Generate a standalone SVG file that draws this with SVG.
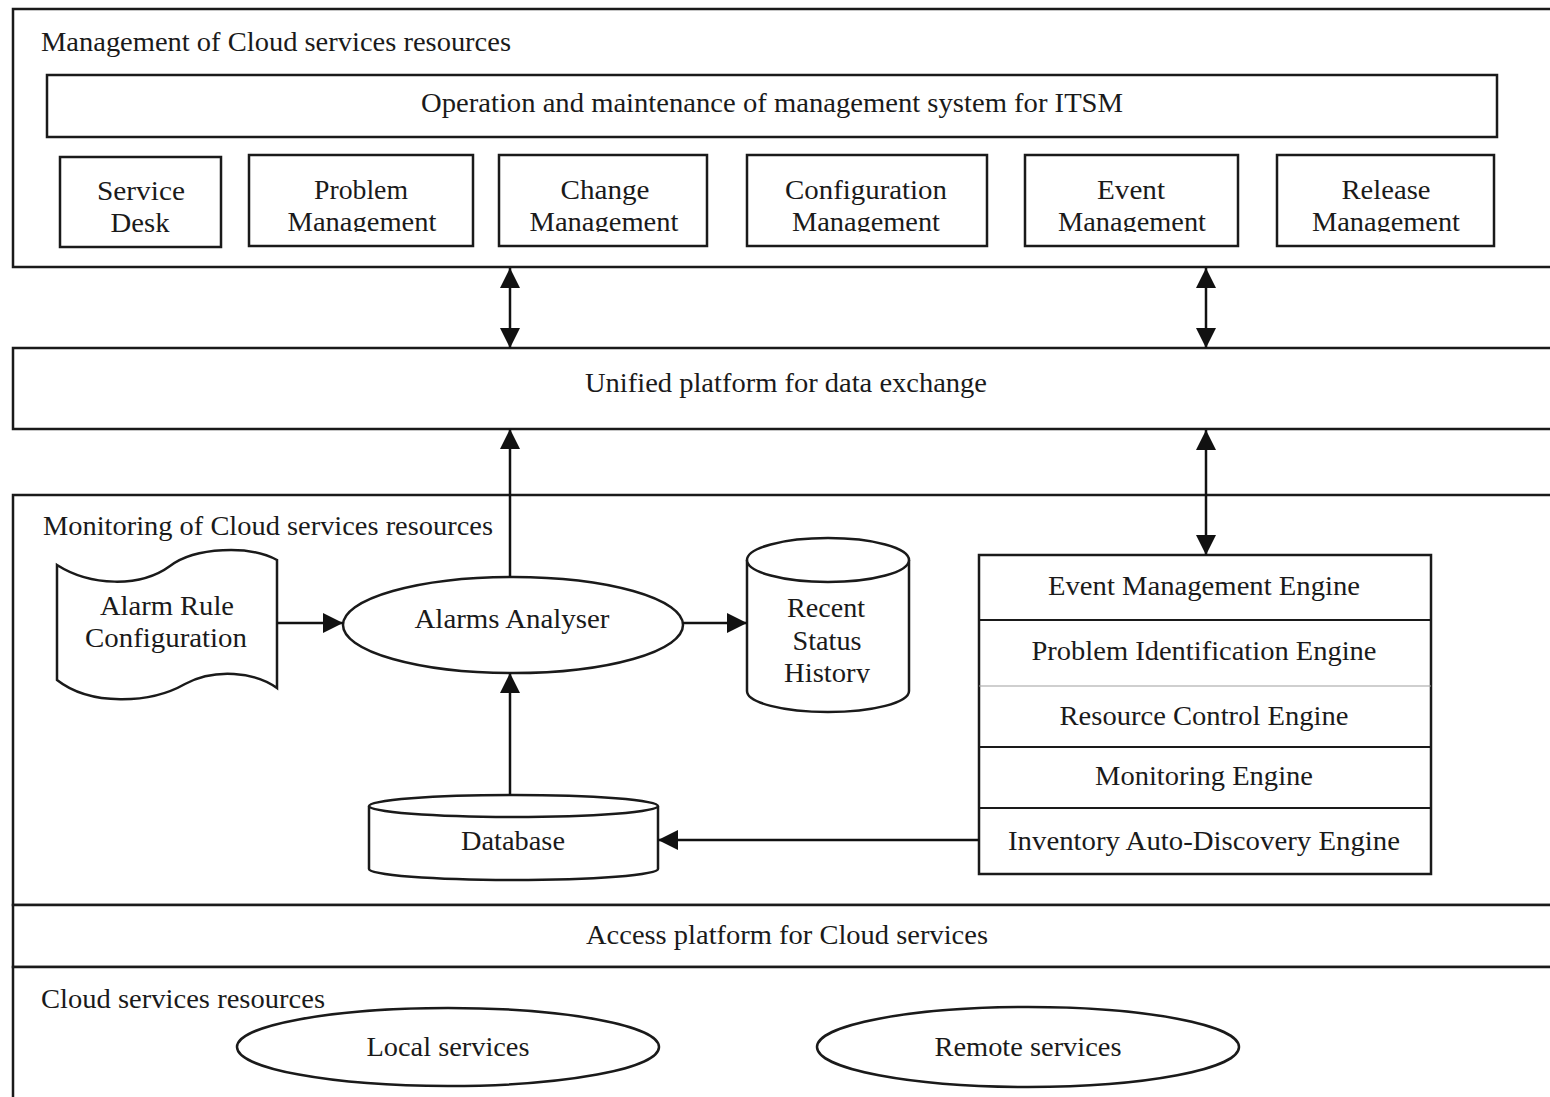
<svg xmlns="http://www.w3.org/2000/svg" width="1550" height="1097" viewBox="0 0 1550 1097">
  <style>
    .box { fill: #ffffff; stroke: #1a1a1a; stroke-width: 2.5; }
    .thin { fill: none; stroke: #1a1a1a; stroke-width: 2; }
    .lbl { font-family: "Liberation Serif", "Times New Roman", serif; font-size: 27px; fill: #1a1a1a; text-anchor: middle; }
    .start { text-anchor: start; }
    .conn { stroke: #111111; stroke-width: 2.5; fill: none; }
  </style>
  <defs>
    <marker id="arrow" viewBox="0 0 20 20" refX="20" refY="10" markerWidth="20" markerHeight="20" markerUnits="userSpaceOnUse" orient="auto-start-reverse">
      <path d="M0,0 L20,10 L0,20 z" fill="#111111"/>
    </marker>
    <clipPath id="clipRow"><rect x="0" y="0" width="1550" height="232"/></clipPath>
    <clipPath id="clipHist"><rect x="700" y="520" width="260" height="163"/></clipPath>
  </defs>

  <rect width="1550" height="1097" fill="#ffffff"/>

  <!-- Management layer -->
  <g id="management-layer">
    <rect class="box" x="13" y="9" width="1560" height="258"/>
    <text class="lbl start" x="41" y="51" textLength="470" lengthAdjust="spacingAndGlyphs">Management of Cloud services resources</text>
  </g>
  <g id="itsm-operation">
    <rect class="box" x="47" y="75" width="1450" height="62"/>
    <text class="lbl" x="772" y="112" textLength="702" lengthAdjust="spacingAndGlyphs">Operation and maintenance of management system for ITSM</text>
  </g>
  <g id="service-desk">
    <rect class="box" x="60" y="157" width="161" height="90"/>
    <text class="lbl" x="141" y="200" textLength="88" lengthAdjust="spacingAndGlyphs">Service</text>
    <text class="lbl" x="140" y="232" textLength="59" lengthAdjust="spacingAndGlyphs">Desk</text>
  </g>
  <g id="problem-management">
    <rect class="box" x="249" y="155" width="224" height="91"/>
    <text class="lbl" x="361" y="199" textLength="94" lengthAdjust="spacingAndGlyphs">Problem</text>
    <text class="lbl" x="362" y="231" textLength="149" lengthAdjust="spacingAndGlyphs" clip-path="url(#clipRow)">Management</text>
  </g>
  <g id="change-management">
    <rect class="box" x="499" y="155" width="208" height="91"/>
    <text class="lbl" x="605" y="199" textLength="89" lengthAdjust="spacingAndGlyphs">Change</text>
    <text class="lbl" x="604" y="231" textLength="149" lengthAdjust="spacingAndGlyphs" clip-path="url(#clipRow)">Management</text>
  </g>
  <g id="configuration-management">
    <rect class="box" x="747" y="155" width="240" height="91"/>
    <text class="lbl" x="866" y="199" textLength="162" lengthAdjust="spacingAndGlyphs">Configuration</text>
    <text class="lbl" x="866" y="231" textLength="148" lengthAdjust="spacingAndGlyphs" clip-path="url(#clipRow)">Management</text>
  </g>
  <g id="event-management">
    <rect class="box" x="1025" y="155" width="213" height="91"/>
    <text class="lbl" x="1131" y="199" textLength="68" lengthAdjust="spacingAndGlyphs">Event</text>
    <text class="lbl" x="1132" y="231" textLength="148" lengthAdjust="spacingAndGlyphs" clip-path="url(#clipRow)">Management</text>
  </g>
  <g id="release-management">
    <rect class="box" x="1277" y="155" width="217" height="91"/>
    <text class="lbl" x="1386" y="199" textLength="89" lengthAdjust="spacingAndGlyphs">Release</text>
    <text class="lbl" x="1386" y="231" textLength="148" lengthAdjust="spacingAndGlyphs" clip-path="url(#clipRow)">Management</text>
  </g>

  <!-- Data exchange layer -->
  <g id="unified-platform">
    <rect class="box" x="13" y="348" width="1560" height="81"/>
    <text class="lbl" x="786" y="392" textLength="402" lengthAdjust="spacingAndGlyphs">Unified platform for data exchange</text>
  </g>

  <!-- Monitoring layer -->
  <g id="monitoring-layer">
    <rect class="box" x="13" y="495" width="1560" height="410"/>
    <text class="lbl start" x="43" y="535" textLength="450" lengthAdjust="spacingAndGlyphs">Monitoring of Cloud services resources</text>
  </g>
  <g id="alarm-rule-configuration">
    <path class="box" d="M57,565 C90,586 140,588 170,566 C195,547 250,545 277,560 L277,688 C255,672 215,668 185,684 C150,704 90,706 57,680 Z"/>
    <text class="lbl" x="167" y="615" textLength="134" lengthAdjust="spacingAndGlyphs">Alarm Rule</text>
    <text class="lbl" x="166" y="647" textLength="162" lengthAdjust="spacingAndGlyphs">Configuration</text>
  </g>
  <g id="alarms-analyser">
    <ellipse class="box" cx="513" cy="625" rx="170" ry="48"/>
    <text class="lbl" x="512" y="628" textLength="195" lengthAdjust="spacingAndGlyphs">Alarms Analyser</text>
  </g>
  <g id="recent-status-history">
    <path class="box" d="M747,560 L747,691 A81,21 0 0 0 909,691 L909,560"/>
    <ellipse class="box" cx="828" cy="560" rx="81" ry="22"/>
    <text class="lbl" x="826" y="617" textLength="78" lengthAdjust="spacingAndGlyphs">Recent</text>
    <text class="lbl" x="827" y="650" textLength="69" lengthAdjust="spacingAndGlyphs">Status</text>
    <text class="lbl" x="827" y="682" textLength="86" lengthAdjust="spacingAndGlyphs" clip-path="url(#clipHist)">History</text>
  </g>
  <g id="database">
    <path class="box" d="M369,806 L369,869 A144.5,11 0 0 0 658,869 L658,806"/>
    <ellipse class="box" cx="513.5" cy="806" rx="144.5" ry="11"/>
    <text class="lbl" x="513" y="850" textLength="104" lengthAdjust="spacingAndGlyphs">Database</text>
  </g>
  <g id="engines">
    <rect class="box" x="979" y="555" width="452" height="319"/>
    <line class="thin" x1="979" y1="620" x2="1431" y2="620" stroke-width="2.5"/>
    <line x1="979" y1="686" x2="1431" y2="686" stroke="#a0a0a0" stroke-width="1.2"/>
    <line class="thin" x1="979" y1="747" x2="1431" y2="747" stroke-width="2.5"/>
    <line class="thin" x1="979" y1="808" x2="1431" y2="808" stroke-width="2.5"/>
    <text class="lbl" x="1204" y="595" textLength="312" lengthAdjust="spacingAndGlyphs">Event Management Engine</text>
    <text class="lbl" x="1204" y="660" textLength="345" lengthAdjust="spacingAndGlyphs">Problem Identification Engine</text>
    <text class="lbl" x="1204" y="725" textLength="289" lengthAdjust="spacingAndGlyphs">Resource Control Engine</text>
    <text class="lbl" x="1204" y="785" textLength="218" lengthAdjust="spacingAndGlyphs">Monitoring Engine</text>
    <text class="lbl" x="1204" y="850" textLength="392" lengthAdjust="spacingAndGlyphs">Inventory Auto-Discovery Engine</text>
  </g>

  <!-- Access layer -->
  <g id="access-platform">
    <rect class="box" x="13" y="905" width="1560" height="62"/>
    <text class="lbl" x="787" y="944" textLength="402" lengthAdjust="spacingAndGlyphs">Access platform for Cloud services</text>
  </g>

  <!-- Resources layer -->
  <g id="cloud-resources">
    <rect class="box" x="13" y="967" width="1560" height="140"/>
    <text class="lbl start" x="41" y="1008" textLength="284" lengthAdjust="spacingAndGlyphs">Cloud services resources</text>
  </g>
  <g id="local-services">
    <ellipse class="box" cx="448" cy="1047" rx="211" ry="39"/>
    <text class="lbl" x="448" y="1056" textLength="163" lengthAdjust="spacingAndGlyphs">Local services</text>
  </g>
  <g id="remote-services">
    <ellipse class="box" cx="1028" cy="1047" rx="211" ry="40"/>
    <text class="lbl" x="1028" y="1056" textLength="187" lengthAdjust="spacingAndGlyphs">Remote services</text>
  </g>

  <!-- Connectors -->
  <g id="connectors">
    <line class="conn" x1="510" y1="268" x2="510" y2="348" marker-start="url(#arrow)" marker-end="url(#arrow)"/>
    <line class="conn" x1="1206" y1="268" x2="1206" y2="348" marker-start="url(#arrow)" marker-end="url(#arrow)"/>
    <line class="conn" x1="510" y1="577" x2="510" y2="429" marker-end="url(#arrow)"/>
    <line class="conn" x1="1206" y1="430" x2="1206" y2="555" marker-start="url(#arrow)" marker-end="url(#arrow)"/>
    <line class="conn" x1="277" y1="623" x2="343" y2="623" marker-end="url(#arrow)"/>
    <line class="conn" x1="683" y1="623" x2="747" y2="623" marker-end="url(#arrow)"/>
    <line class="conn" x1="510" y1="795" x2="510" y2="673" marker-end="url(#arrow)"/>
    <line class="conn" x1="979" y1="840" x2="658" y2="840" marker-end="url(#arrow)"/>
  </g>
</svg>
